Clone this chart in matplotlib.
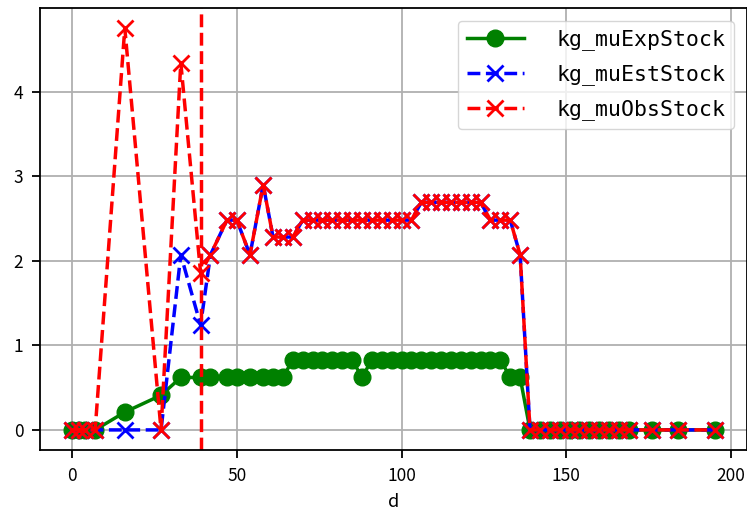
import numpy as np
import matplotlib
matplotlib.use('Agg')
import matplotlib.pyplot as plt
from matplotlib.ticker import MultipleLocator

plt.rcParams['font.family'] = ['Noto Sans CJK SC', 'DejaVu Sans']

#%% datos
d = [0, 2, 4, 7, 16, 27, 33, 39, 42, 47, 50, 54, 58, 61, 64, 67,
     70, 73, 76, 79, 82, 85, 88, 91, 94, 97, 100, 103,
     106, 109, 112, 115, 118, 121, 124, 127, 130, 133, 136,
     139, 142, 145, 148, 151, 154, 157, 160, 163, 166, 169, 176, 184, 195]

kg_muExpStock = [0, 0, 0, 0, 0.21, 0.41, 0.62, 0.62, 0.62, 0.62, 0.62, 0.62, 0.62, 0.62, 0.62, 0.83,
                 0.83, 0.83, 0.83, 0.83, 0.83, 0.83, 0.62, 0.83, 0.83, 0.83, 0.83, 0.83,
                 0.83, 0.83, 0.83, 0.83, 0.83, 0.83, 0.83, 0.83, 0.83, 0.62, 0.62,
                 0, 0, 0, 0, 0, 0, 0, 0, 0, 0, 0, 0, 0, 0]

kg_muEstStock = [0, 0, 0, 0, 0, 0, 2.07, 1.24, 2.07, 2.48, 2.48, 2.07, 2.9, 2.28, 2.28, 2.28,
                 2.48, 2.48, 2.48, 2.48, 2.48, 2.48, 2.48, 2.48, 2.48, 2.48, 2.48, 2.48,
                 2.69, 2.69, 2.69, 2.69, 2.69, 2.69, 2.69, 2.48, 2.48, 2.48, 2.07,
                 0, 0, 0, 0, 0, 0, 0, 0, 0, 0, 0, 0, 0, 0]

kg_muObsStock = [0, 0, 0, 0, 4.75, 0, 4.34, 1.86, 2.07, 2.48, 2.48, 2.07, 2.9, 2.28, 2.28, 2.28,
                 2.48, 2.48, 2.48, 2.48, 2.48, 2.48, 2.48, 2.48, 2.48, 2.48, 2.48, 2.48,
                 2.69, 2.69, 2.69, 2.69, 2.69, 2.69, 2.69, 2.48, 2.48, 2.48, 2.07,
                 0, 0, 0, 0, 0, 0, 0, 0, 0, 0, 0, 0, 0, 0]

dia_corte = 39

#%% grafico
fig = plt.figure(figsize=(7.47, 5.2), dpi=100)
ax = fig.add_axes([0.0535, 0.1346, 0.946, 0.85])

ax.plot(d, kg_muExpStock, 'o-', color='green', lw=2.5, ms=12, label='kg_muExpStock')
ax.plot(d, kg_muEstStock, 'x--', color='blue', lw=2.5, ms=12, mew=2, label='kg_muEstStock')
ax.plot(d, kg_muObsStock, 'x--', color='red', lw=2.5, ms=12, mew=2, label='kg_muObsStock')
ax.axvline(dia_corte, color='red', ls='--', lw=2.5)

ax.xaxis.set_major_locator(MultipleLocator(50))
ax.grid(True, color='#b0b0b0', lw=1.3)
ax.set_axisbelow(True)
ax.set_xlabel('d', fontsize=13, labelpad=6)
ax.tick_params(labelsize=12.5, width=1.3, length=6, pad=6)
for s in ax.spines.values():
    s.set_linewidth(1.3)

ax.legend(loc='upper right', handletextpad=1.5, handlelength=2.65, labelspacing=0.65,
          borderaxespad=0.6, prop={'family': ['DejaVu Sans Mono'], 'size': 15.5})

fig.savefig('out.png', dpi=100)
